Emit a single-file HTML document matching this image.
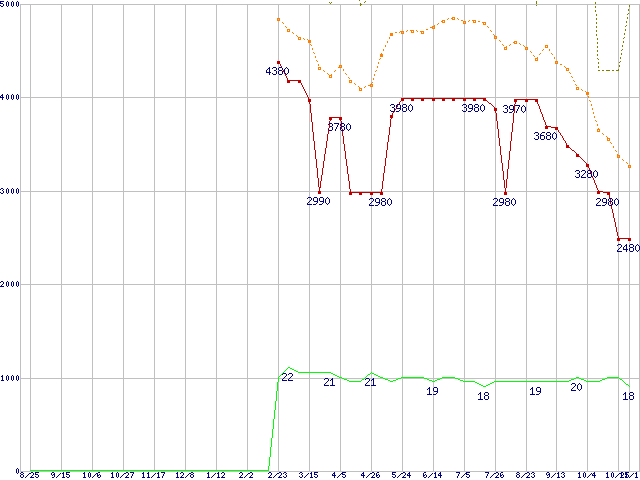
<!DOCTYPE html>
<html><head><meta charset="utf-8"><title>Chart</title>
<style>html,body{margin:0;padding:0;background:#fff;overflow:hidden}body{width:640px;height:480px;font-family:"Liberation Sans",sans-serif}svg{display:block}</style>
</head><body>
<svg role="img" aria-label="Line chart, 8/25 to 11/1, y axis 0 to 5000" width="640" height="480" viewBox="0 0 640 480" shape-rendering="crispEdges">
<rect width="640" height="480" fill="#fff"/>
<path fill="#c0c0c0" d="M20 4h1v468h-1zM30 4h1v468h-1zM61 4h1v468h-1zM92 4h1v468h-1zM123 4h1v468h-1zM154 4h1v468h-1zM185 4h1v468h-1zM216 4h1v468h-1zM247 4h1v468h-1zM278 4h1v468h-1zM309 4h1v468h-1zM340 4h1v468h-1zM371 4h1v468h-1zM402 4h1v468h-1zM433 4h1v468h-1zM464 4h1v468h-1zM495 4h1v468h-1zM526 4h1v468h-1zM556 4h1v468h-1zM587 4h1v468h-1zM618 4h1v468h-1zM629 4h1v468h-1zM639 4h1v468h-1zM20 4h620v1h-620zM20 97h620v1h-620zM20 191h620v1h-620zM20 284h620v1h-620zM20 378h620v1h-620zM20 471h620v1h-620z"/>
<path fill="#000080" d="M0 1h1v3h-1zM0 5h1v1h-1zM0 96h1v2h-1zM0 189h1v1h-1zM0 192h1v1h-1zM0 282h1v1h-1zM0 286h1v1h-1zM1 1h1v1h-1zM1 3h1v1h-1zM1 6h1v1h-1zM1 95h1v1h-1zM1 97h1v1h-1zM1 188h1v1h-1zM1 193h1v1h-1zM1 281h1v1h-1zM1 285h1v2h-1zM1 376h1v1h-1zM1 380h1v1h-1zM2 1h1v1h-1zM2 3h1v1h-1zM2 6h1v1h-1zM2 94h1v6h-1zM2 188h1v1h-1zM2 190h1v1h-1zM2 193h1v1h-1zM2 281h1v1h-1zM2 284h1v1h-1zM2 286h1v1h-1zM2 375h1v6h-1zM3 1h1v1h-1zM3 4h1v2h-1zM3 97h1v1h-1zM3 189h1v1h-1zM3 191h1v2h-1zM3 282h1v2h-1zM3 286h1v1h-1zM3 380h1v1h-1zM6 2h1v4h-1zM6 95h1v4h-1zM6 189h1v4h-1zM6 282h1v4h-1zM6 376h1v4h-1zM7 1h1v1h-1zM7 6h1v1h-1zM7 94h1v1h-1zM7 99h1v1h-1zM7 188h1v1h-1zM7 193h1v1h-1zM7 281h1v1h-1zM7 286h1v1h-1zM7 375h1v1h-1zM7 380h1v1h-1zM8 2h1v4h-1zM8 95h1v4h-1zM8 189h1v4h-1zM8 282h1v4h-1zM8 376h1v4h-1zM11 2h1v4h-1zM11 95h1v4h-1zM11 189h1v4h-1zM11 282h1v4h-1zM11 376h1v4h-1zM12 1h1v1h-1zM12 6h1v1h-1zM12 94h1v1h-1zM12 99h1v1h-1zM12 188h1v1h-1zM12 193h1v1h-1zM12 281h1v1h-1zM12 286h1v1h-1zM12 375h1v1h-1zM12 380h1v1h-1zM13 2h1v4h-1zM13 95h1v4h-1zM13 189h1v4h-1zM13 282h1v4h-1zM13 376h1v4h-1zM16 2h1v4h-1zM16 95h1v4h-1zM16 189h1v4h-1zM16 282h1v4h-1zM16 376h1v4h-1zM16 469h1v4h-1zM17 1h1v1h-1zM17 6h1v1h-1zM17 94h1v1h-1zM17 99h1v1h-1zM17 188h1v1h-1zM17 193h1v1h-1zM17 281h1v1h-1zM17 286h1v1h-1zM17 375h1v1h-1zM17 380h1v1h-1zM17 468h1v1h-1zM17 473h1v1h-1zM18 2h1v4h-1zM18 95h1v4h-1zM18 189h1v4h-1zM18 282h1v4h-1zM18 376h1v4h-1zM18 469h1v4h-1zM20 473h1v1h-1zM20 475h1v2h-1zM21 472h1v1h-1zM21 474h1v1h-1zM21 477h1v1h-1zM22 472h1v1h-1zM22 474h1v1h-1zM22 477h1v1h-1zM23 473h1v1h-1zM23 475h1v2h-1zM25 477h1v1h-1zM26 476h1v1h-1zM27 475h1v1h-1zM28 474h1v1h-1zM29 473h1v1h-1zM30 473h1v1h-1zM30 477h1v1h-1zM31 472h1v1h-1zM31 476h1v2h-1zM32 472h1v1h-1zM32 475h1v1h-1zM32 477h1v1h-1zM33 473h1v2h-1zM33 477h1v1h-1zM35 472h1v3h-1zM35 476h1v1h-1zM36 472h1v1h-1zM36 474h1v1h-1zM36 477h1v1h-1zM37 472h1v1h-1zM37 474h1v1h-1zM37 477h1v1h-1zM38 472h1v1h-1zM38 475h1v2h-1zM51 473h1v2h-1zM52 472h1v1h-1zM52 475h1v1h-1zM52 477h1v1h-1zM53 472h1v1h-1zM53 474h1v1h-1zM53 477h1v1h-1zM54 473h1v4h-1zM56 477h1v1h-1zM57 476h1v1h-1zM58 475h1v1h-1zM59 474h1v1h-1zM60 473h1v1h-1zM62 473h1v1h-1zM62 477h1v1h-1zM63 472h1v6h-1zM64 477h1v1h-1zM66 472h1v3h-1zM66 476h1v1h-1zM67 472h1v1h-1zM67 474h1v1h-1zM67 477h1v1h-1zM68 472h1v1h-1zM68 474h1v1h-1zM68 477h1v1h-1zM69 472h1v1h-1zM69 475h1v2h-1zM83 473h1v1h-1zM83 477h1v1h-1zM84 472h1v6h-1zM85 477h1v1h-1zM88 473h1v4h-1zM89 472h1v1h-1zM89 477h1v1h-1zM90 473h1v4h-1zM92 477h1v1h-1zM93 476h1v1h-1zM94 475h1v1h-1zM95 474h1v1h-1zM96 473h1v1h-1zM97 473h1v4h-1zM98 472h1v1h-1zM98 475h1v1h-1zM98 477h1v1h-1zM99 472h1v1h-1zM99 474h1v1h-1zM99 477h1v1h-1zM100 475h1v2h-1zM111 473h1v1h-1zM111 477h1v1h-1zM112 472h1v6h-1zM113 477h1v1h-1zM116 473h1v4h-1zM117 472h1v1h-1zM117 477h1v1h-1zM118 473h1v4h-1zM120 477h1v1h-1zM121 476h1v1h-1zM122 475h1v1h-1zM123 474h1v1h-1zM124 473h1v1h-1zM125 473h1v1h-1zM125 477h1v1h-1zM126 472h1v1h-1zM126 476h1v2h-1zM127 472h1v1h-1zM127 475h1v1h-1zM127 477h1v1h-1zM128 473h1v2h-1zM128 477h1v1h-1zM130 472h1v1h-1zM131 472h1v1h-1zM131 476h1v2h-1zM132 472h1v1h-1zM132 474h1v2h-1zM133 472h1v2h-1zM142 473h1v1h-1zM142 477h1v1h-1zM143 472h1v6h-1zM144 477h1v1h-1zM147 473h1v1h-1zM147 477h1v1h-1zM148 472h1v6h-1zM149 477h1v1h-1zM151 477h1v1h-1zM152 476h1v1h-1zM153 475h1v1h-1zM154 474h1v1h-1zM155 473h1v1h-1zM157 473h1v1h-1zM157 477h1v1h-1zM158 472h1v6h-1zM159 477h1v1h-1zM161 472h1v1h-1zM162 472h1v1h-1zM162 476h1v2h-1zM163 472h1v1h-1zM163 474h1v2h-1zM164 472h1v2h-1zM176 473h1v1h-1zM176 477h1v1h-1zM177 472h1v6h-1zM178 477h1v1h-1zM180 473h1v1h-1zM180 477h1v1h-1zM181 472h1v1h-1zM181 476h1v2h-1zM182 472h1v1h-1zM182 475h1v1h-1zM182 477h1v1h-1zM183 473h1v2h-1zM183 477h1v1h-1zM185 477h1v1h-1zM186 476h1v1h-1zM187 475h1v1h-1zM188 474h1v1h-1zM189 473h1v1h-1zM190 473h1v1h-1zM190 475h1v2h-1zM191 472h1v1h-1zM191 474h1v1h-1zM191 477h1v1h-1zM192 472h1v1h-1zM192 474h1v1h-1zM192 477h1v1h-1zM193 473h1v1h-1zM193 475h1v2h-1zM207 473h1v1h-1zM207 477h1v1h-1zM208 472h1v6h-1zM209 477h1v1h-1zM211 477h1v1h-1zM212 476h1v1h-1zM213 475h1v1h-1zM214 474h1v1h-1zM215 473h1v1h-1zM217 473h1v1h-1zM217 477h1v1h-1zM218 472h1v6h-1zM219 477h1v1h-1zM221 473h1v1h-1zM221 477h1v1h-1zM222 472h1v1h-1zM222 476h1v2h-1zM223 472h1v1h-1zM223 475h1v1h-1zM223 477h1v1h-1zM224 473h1v2h-1zM224 477h1v1h-1zM239 473h1v1h-1zM239 477h1v1h-1zM240 472h1v1h-1zM240 476h1v2h-1zM241 472h1v1h-1zM241 475h1v1h-1zM241 477h1v1h-1zM242 473h1v2h-1zM242 477h1v1h-1zM244 477h1v1h-1zM245 476h1v1h-1zM246 475h1v1h-1zM247 474h1v1h-1zM248 473h1v1h-1zM249 473h1v1h-1zM249 477h1v1h-1zM250 472h1v1h-1zM250 476h1v2h-1zM251 472h1v1h-1zM251 475h1v1h-1zM251 477h1v1h-1zM252 473h1v2h-1zM252 477h1v1h-1zM268 473h1v1h-1zM268 477h1v1h-1zM269 472h1v1h-1zM269 476h1v2h-1zM270 472h1v1h-1zM270 475h1v1h-1zM270 477h1v1h-1zM271 473h1v2h-1zM271 477h1v1h-1zM273 477h1v1h-1zM274 476h1v1h-1zM275 475h1v1h-1zM276 474h1v1h-1zM277 473h1v1h-1zM278 473h1v1h-1zM278 477h1v1h-1zM279 472h1v1h-1zM279 476h1v2h-1zM280 472h1v1h-1zM280 475h1v1h-1zM280 477h1v1h-1zM281 473h1v2h-1zM281 477h1v1h-1zM283 473h1v1h-1zM283 476h1v1h-1zM284 472h1v1h-1zM284 477h1v1h-1zM285 472h1v1h-1zM285 474h1v1h-1zM285 477h1v1h-1zM286 473h1v1h-1zM286 475h1v2h-1zM299 473h1v1h-1zM299 476h1v1h-1zM300 472h1v1h-1zM300 477h1v1h-1zM301 472h1v1h-1zM301 474h1v1h-1zM301 477h1v1h-1zM302 473h1v1h-1zM302 475h1v2h-1zM304 477h1v1h-1zM305 476h1v1h-1zM306 475h1v1h-1zM307 474h1v1h-1zM308 473h1v1h-1zM310 473h1v1h-1zM310 477h1v1h-1zM311 472h1v6h-1zM312 477h1v1h-1zM314 472h1v3h-1zM314 476h1v1h-1zM315 472h1v1h-1zM315 474h1v1h-1zM315 477h1v1h-1zM316 472h1v1h-1zM316 474h1v1h-1zM316 477h1v1h-1zM317 472h1v1h-1zM317 475h1v2h-1zM332 474h1v2h-1zM333 473h1v1h-1zM333 475h1v1h-1zM334 472h1v6h-1zM335 475h1v1h-1zM337 477h1v1h-1zM338 476h1v1h-1zM339 475h1v1h-1zM340 474h1v1h-1zM341 473h1v1h-1zM342 472h1v3h-1zM342 476h1v1h-1zM343 472h1v1h-1zM343 474h1v1h-1zM343 477h1v1h-1zM344 472h1v1h-1zM344 474h1v1h-1zM344 477h1v1h-1zM345 472h1v1h-1zM345 475h1v2h-1zM361 474h1v2h-1zM362 473h1v1h-1zM362 475h1v1h-1zM363 472h1v6h-1zM364 475h1v1h-1zM366 477h1v1h-1zM367 476h1v1h-1zM368 475h1v1h-1zM369 474h1v1h-1zM370 473h1v1h-1zM371 473h1v1h-1zM371 477h1v1h-1zM372 472h1v1h-1zM372 476h1v2h-1zM373 472h1v1h-1zM373 475h1v1h-1zM373 477h1v1h-1zM374 473h1v2h-1zM374 477h1v1h-1zM376 473h1v4h-1zM377 472h1v1h-1zM377 475h1v1h-1zM377 477h1v1h-1zM378 472h1v1h-1zM378 474h1v1h-1zM378 477h1v1h-1zM379 475h1v2h-1zM392 472h1v3h-1zM392 476h1v1h-1zM393 472h1v1h-1zM393 474h1v1h-1zM393 477h1v1h-1zM394 472h1v1h-1zM394 474h1v1h-1zM394 477h1v1h-1zM395 472h1v1h-1zM395 475h1v2h-1zM397 477h1v1h-1zM398 476h1v1h-1zM399 475h1v1h-1zM400 474h1v1h-1zM401 473h1v1h-1zM402 473h1v1h-1zM402 477h1v1h-1zM403 472h1v1h-1zM403 476h1v2h-1zM404 472h1v1h-1zM404 475h1v1h-1zM404 477h1v1h-1zM405 473h1v2h-1zM405 477h1v1h-1zM407 474h1v2h-1zM408 473h1v1h-1zM408 475h1v1h-1zM409 472h1v6h-1zM410 475h1v1h-1zM423 473h1v4h-1zM424 472h1v1h-1zM424 475h1v1h-1zM424 477h1v1h-1zM425 472h1v1h-1zM425 474h1v1h-1zM425 477h1v1h-1zM426 475h1v2h-1zM428 477h1v1h-1zM429 476h1v1h-1zM430 475h1v1h-1zM431 474h1v1h-1zM432 473h1v1h-1zM434 473h1v1h-1zM434 477h1v1h-1zM435 472h1v6h-1zM436 477h1v1h-1zM438 474h1v2h-1zM439 473h1v1h-1zM439 475h1v1h-1zM440 472h1v6h-1zM441 475h1v1h-1zM456 472h1v1h-1zM457 472h1v1h-1zM457 476h1v2h-1zM458 472h1v1h-1zM458 474h1v2h-1zM459 472h1v2h-1zM461 477h1v1h-1zM462 476h1v1h-1zM463 475h1v1h-1zM464 474h1v1h-1zM465 473h1v1h-1zM466 472h1v3h-1zM466 476h1v1h-1zM467 472h1v1h-1zM467 474h1v1h-1zM467 477h1v1h-1zM468 472h1v1h-1zM468 474h1v1h-1zM468 477h1v1h-1zM469 472h1v1h-1zM469 475h1v2h-1zM485 472h1v1h-1zM486 472h1v1h-1zM486 476h1v2h-1zM487 472h1v1h-1zM487 474h1v2h-1zM488 472h1v2h-1zM490 477h1v1h-1zM491 476h1v1h-1zM492 475h1v1h-1zM493 474h1v1h-1zM494 473h1v1h-1zM495 473h1v1h-1zM495 477h1v1h-1zM496 472h1v1h-1zM496 476h1v2h-1zM497 472h1v1h-1zM497 475h1v1h-1zM497 477h1v1h-1zM498 473h1v2h-1zM498 477h1v1h-1zM500 473h1v4h-1zM501 472h1v1h-1zM501 475h1v1h-1zM501 477h1v1h-1zM502 472h1v1h-1zM502 474h1v1h-1zM502 477h1v1h-1zM503 475h1v2h-1zM516 473h1v1h-1zM516 475h1v2h-1zM517 472h1v1h-1zM517 474h1v1h-1zM517 477h1v1h-1zM518 472h1v1h-1zM518 474h1v1h-1zM518 477h1v1h-1zM519 473h1v1h-1zM519 475h1v2h-1zM521 477h1v1h-1zM522 476h1v1h-1zM523 475h1v1h-1zM524 474h1v1h-1zM525 473h1v1h-1zM526 473h1v1h-1zM526 477h1v1h-1zM527 472h1v1h-1zM527 476h1v2h-1zM528 472h1v1h-1zM528 475h1v1h-1zM528 477h1v1h-1zM529 473h1v2h-1zM529 477h1v1h-1zM531 473h1v1h-1zM531 476h1v1h-1zM532 472h1v1h-1zM532 477h1v1h-1zM533 472h1v1h-1zM533 474h1v1h-1zM533 477h1v1h-1zM534 473h1v1h-1zM534 475h1v2h-1zM546 473h1v2h-1zM547 472h1v1h-1zM547 475h1v1h-1zM547 477h1v1h-1zM548 472h1v1h-1zM548 474h1v1h-1zM548 477h1v1h-1zM549 473h1v4h-1zM551 477h1v1h-1zM552 476h1v1h-1zM553 475h1v1h-1zM554 474h1v1h-1zM555 473h1v1h-1zM557 473h1v1h-1zM557 477h1v1h-1zM558 472h1v6h-1zM559 477h1v1h-1zM561 473h1v1h-1zM561 476h1v1h-1zM562 472h1v1h-1zM562 477h1v1h-1zM563 472h1v1h-1zM563 474h1v1h-1zM563 477h1v1h-1zM564 473h1v1h-1zM564 475h1v2h-1zM578 473h1v1h-1zM578 477h1v1h-1zM579 472h1v6h-1zM580 477h1v1h-1zM583 473h1v4h-1zM584 472h1v1h-1zM584 477h1v1h-1zM585 473h1v4h-1zM587 477h1v1h-1zM588 476h1v1h-1zM589 475h1v1h-1zM590 474h1v1h-1zM591 473h1v1h-1zM592 474h1v2h-1zM593 473h1v1h-1zM593 475h1v1h-1zM594 472h1v6h-1zM595 475h1v1h-1zM606 473h1v1h-1zM606 477h1v1h-1zM607 472h1v6h-1zM608 477h1v1h-1zM611 473h1v4h-1zM612 472h1v1h-1zM612 477h1v1h-1zM613 473h1v4h-1zM615 477h1v1h-1zM616 476h1v1h-1zM617 475h1v1h-1zM618 474h1v1h-1zM619 473h1v1h-1zM620 473h1v1h-1zM620 477h1v1h-1zM621 472h1v6h-1zM622 472h1v1h-1zM622 475h1v1h-1zM622 477h1v1h-1zM623 473h1v2h-1zM623 477h1v1h-1zM625 472h1v3h-1zM625 476h1v2h-1zM626 472h1v6h-1zM627 472h1v1h-1zM627 474h1v1h-1zM627 477h1v1h-1zM628 472h1v1h-1zM628 475h1v2h-1zM629 477h1v1h-1zM630 476h1v1h-1zM631 475h1v1h-1zM632 474h1v1h-1zM633 473h1v1h-1zM635 473h1v1h-1zM635 477h1v1h-1zM636 472h1v6h-1zM637 477h1v1h-1z"/>
<path fill="#ff8000" d="M277 18h1v3h-1zM278 18h1v1h-1zM278 20h1v1h-1zM279 18h1v3h-1zM282 22h1v1h-1zM283 23h1v1h-1zM285 26h1v1h-1zM286 27h1v1h-1zM287 29h1v3h-1zM288 29h1v1h-1zM288 31h1v1h-1zM289 29h1v3h-1zM292 32h1v1h-1zM293 33h1v1h-1zM296 35h1v1h-1zM297 36h1v1h-1zM298 37h1v3h-1zM299 37h1v1h-1zM299 39h1v1h-1zM300 37h1v3h-1zM303 38h1v1h-1zM304 39h1v1h-1zM307 39h1v1h-1zM308 40h1v3h-1zM309 40h1v3h-1zM310 40h1v3h-1zM310 44h1v1h-1zM311 45h1v1h-1zM312 48h1v2h-1zM313 52h1v1h-1zM314 53h1v1h-1zM315 56h1v2h-1zM316 60h1v1h-1zM317 61h1v1h-1zM318 64h1v2h-1zM318 67h1v3h-1zM319 67h1v1h-1zM319 69h1v1h-1zM320 67h1v3h-1zM323 70h1v1h-1zM324 71h1v1h-1zM327 73h1v1h-1zM328 74h1v1h-1zM329 75h1v3h-1zM330 75h1v1h-1zM330 77h1v1h-1zM331 74h1v4h-1zM334 71h1v1h-1zM335 70h1v1h-1zM338 67h1v1h-1zM339 65h1v3h-1zM340 65h1v1h-1zM340 67h1v1h-1zM341 65h1v3h-1zM343 69h1v2h-1zM345 73h1v1h-1zM346 74h1v1h-1zM348 77h1v1h-1zM349 78h1v1h-1zM349 80h1v3h-1zM350 80h1v1h-1zM350 82h1v1h-1zM351 80h1v3h-1zM354 83h1v1h-1zM355 84h1v1h-1zM358 86h1v1h-1zM359 87h1v4h-1zM360 88h1v1h-1zM360 90h1v1h-1zM361 88h1v3h-1zM364 87h1v1h-1zM365 86h1v1h-1zM368 85h1v1h-1zM369 85h1v1h-1zM370 84h1v3h-1zM371 83h1v2h-1zM371 86h1v1h-1zM372 82h1v1h-1zM372 84h1v3h-1zM373 78h1v2h-1zM374 74h1v2h-1zM375 71h1v1h-1zM376 70h1v1h-1zM377 66h1v2h-1zM378 62h1v2h-1zM379 59h1v1h-1zM380 54h1v3h-1zM380 58h1v1h-1zM381 53h1v4h-1zM382 54h1v3h-1zM383 49h1v2h-1zM385 45h1v2h-1zM387 41h1v2h-1zM389 37h1v2h-1zM390 33h1v3h-1zM391 33h1v3h-1zM392 33h1v3h-1zM395 32h1v1h-1zM396 32h1v1h-1zM399 32h1v1h-1zM400 31h1v1h-1zM401 31h1v3h-1zM402 31h1v1h-1zM402 33h1v1h-1zM403 31h1v3h-1zM406 31h1v1h-1zM407 30h1v1h-1zM410 30h1v1h-1zM411 30h1v3h-1zM412 30h1v1h-1zM412 32h1v1h-1zM413 30h1v3h-1zM416 30h1v1h-1zM417 31h1v1h-1zM420 31h1v1h-1zM421 31h1v3h-1zM422 31h1v1h-1zM422 33h1v1h-1zM423 31h1v3h-1zM426 29h1v1h-1zM427 29h1v1h-1zM430 27h1v1h-1zM431 27h1v1h-1zM432 26h1v3h-1zM433 26h1v1h-1zM433 28h1v1h-1zM434 25h1v4h-1zM437 24h1v1h-1zM438 23h1v1h-1zM441 21h1v1h-1zM442 20h1v3h-1zM443 20h1v1h-1zM443 22h1v1h-1zM444 20h1v3h-1zM447 19h1v1h-1zM448 18h1v1h-1zM451 18h1v1h-1zM452 17h1v3h-1zM453 17h1v1h-1zM453 19h1v1h-1zM454 17h1v3h-1zM457 18h1v1h-1zM458 19h1v1h-1zM461 20h1v1h-1zM462 20h1v1h-1zM463 21h1v3h-1zM464 21h1v1h-1zM464 23h1v1h-1zM465 21h1v3h-1zM468 21h1v1h-1zM469 20h1v1h-1zM472 20h1v1h-1zM473 20h1v3h-1zM474 20h1v1h-1zM474 22h1v1h-1zM475 20h1v3h-1zM478 21h1v1h-1zM479 21h1v1h-1zM482 22h1v1h-1zM483 22h1v3h-1zM484 22h1v1h-1zM484 24h1v1h-1zM485 22h1v3h-1zM487 26h1v1h-1zM488 27h1v1h-1zM490 30h1v1h-1zM491 31h1v1h-1zM493 34h1v1h-1zM494 35h1v4h-1zM495 36h1v1h-1zM495 38h1v1h-1zM496 36h1v3h-1zM499 40h1v1h-1zM500 41h1v1h-1zM502 44h1v1h-1zM503 45h1v1h-1zM504 47h1v3h-1zM505 47h1v1h-1zM505 49h1v1h-1zM506 46h1v4h-1zM509 45h1v1h-1zM510 44h1v1h-1zM513 42h1v1h-1zM514 41h1v3h-1zM515 41h1v1h-1zM515 43h1v1h-1zM516 41h1v3h-1zM519 43h1v1h-1zM520 44h1v1h-1zM523 45h1v1h-1zM524 46h1v1h-1zM525 47h1v3h-1zM526 47h1v1h-1zM526 49h1v1h-1zM527 47h1v3h-1zM530 51h1v1h-1zM531 52h1v1h-1zM533 55h1v1h-1zM534 56h1v1h-1zM535 58h1v3h-1zM536 58h1v1h-1zM536 60h1v1h-1zM537 57h1v4h-1zM539 54h1v1h-1zM540 53h1v1h-1zM542 50h1v1h-1zM543 49h1v1h-1zM545 45h1v3h-1zM546 45h1v1h-1zM546 47h1v1h-1zM547 45h1v3h-1zM549 49h1v2h-1zM551 53h1v1h-1zM552 54h1v1h-1zM554 57h1v2h-1zM555 61h1v3h-1zM556 61h1v1h-1zM556 63h1v1h-1zM557 61h1v3h-1zM560 64h1v1h-1zM561 64h1v1h-1zM564 66h1v1h-1zM565 67h1v1h-1zM566 68h1v3h-1zM567 68h1v1h-1zM567 70h1v1h-1zM568 68h1v3h-1zM569 72h1v1h-1zM570 73h1v1h-1zM571 76h1v1h-1zM572 77h1v1h-1zM573 80h1v1h-1zM574 81h1v1h-1zM575 84h1v1h-1zM576 85h1v1h-1zM576 87h1v3h-1zM577 87h1v1h-1zM577 89h1v1h-1zM578 87h1v3h-1zM581 89h1v1h-1zM582 90h1v1h-1zM585 91h1v1h-1zM586 92h1v3h-1zM587 92h1v3h-1zM588 92h1v3h-1zM588 96h1v2h-1zM589 100h1v1h-1zM590 101h1v1h-1zM591 104h1v2h-1zM592 108h1v2h-1zM593 112h1v2h-1zM594 116h1v2h-1zM595 120h1v1h-1zM596 121h1v1h-1zM597 124h1v2h-1zM597 129h1v3h-1zM598 128h1v2h-1zM598 131h1v1h-1zM599 129h1v3h-1zM602 133h1v1h-1zM603 134h1v1h-1zM606 136h1v1h-1zM607 137h1v4h-1zM608 138h1v1h-1zM608 140h1v1h-1zM609 138h1v3h-1zM610 142h1v1h-1zM611 143h1v1h-1zM613 146h1v2h-1zM615 150h1v1h-1zM616 151h1v1h-1zM617 154h1v4h-1zM618 155h1v1h-1zM618 157h1v1h-1zM619 155h1v3h-1zM622 159h1v1h-1zM623 160h1v1h-1zM626 162h1v1h-1zM627 163h1v1h-1zM628 165h1v3h-1zM629 165h1v1h-1zM629 167h1v1h-1zM630 165h1v3h-1z"/>
<path fill="#808000" d="M329 2h1v1h-1zM330 3h1v1h-1zM331 2h1v1h-1zM359 0h1v1h-1zM360 3h1v3h-1zM361 4h1v1h-1zM364 2h1v1h-1zM365 1h1v1h-1zM536 1h1v3h-1zM536 5h1v1h-1zM595 2h1v2h-1zM595 6h1v2h-1zM595 10h1v2h-1zM596 14h1v2h-1zM596 18h1v2h-1zM596 22h1v2h-1zM596 26h1v2h-1zM596 30h1v2h-1zM596 34h1v2h-1zM597 38h1v2h-1zM597 42h1v2h-1zM597 46h1v2h-1zM597 50h1v2h-1zM597 54h1v2h-1zM597 58h1v1h-1zM598 59h1v1h-1zM598 62h1v2h-1zM598 66h1v2h-1zM598 70h1v1h-1zM599 70h1v1h-1zM602 70h1v1h-1zM603 70h1v1h-1zM606 70h1v1h-1zM607 70h1v1h-1zM608 70h1v1h-1zM609 70h1v1h-1zM612 70h1v1h-1zM613 70h1v1h-1zM616 70h1v1h-1zM617 70h1v1h-1zM618 69h1v2h-1zM619 62h1v1h-1zM619 65h1v2h-1zM620 57h1v2h-1zM620 61h1v1h-1zM621 50h1v1h-1zM621 53h1v2h-1zM622 45h1v2h-1zM622 49h1v1h-1zM623 38h1v1h-1zM623 41h1v2h-1zM624 33h1v2h-1zM624 37h1v1h-1zM625 26h1v1h-1zM625 29h1v2h-1zM626 21h1v2h-1zM626 25h1v1h-1zM627 14h1v1h-1zM627 17h1v2h-1zM628 9h1v2h-1zM628 13h1v1h-1zM629 5h1v2h-1z"/>
<path fill="#00ff00" d="M288 367h2v1h-2zM287 368h1v1h-1zM290 368h2v1h-2zM286 369h1v1h-1zM292 369h2v1h-2zM285 370h1v1h-1zM294 370h2v1h-2zM284 371h1v1h-1zM296 371h2v1h-2zM283 372h1v1h-1zM298 372h33v1h-33zM371 372h1v1h-1zM282 373h1v1h-1zM331 373h2v1h-2zM370 373h1v1h-1zM372 373h2v1h-2zM281 374h1v1h-1zM333 374h2v1h-2zM368 374h2v1h-2zM374 374h2v1h-2zM280 375h1v1h-1zM335 375h2v1h-2zM367 375h1v1h-1zM376 375h2v1h-2zM279 376h1v1h-1zM337 376h2v1h-2zM366 376h1v1h-1zM378 376h2v1h-2zM278 377h1v1h-1zM339 377h3v1h-3zM365 377h1v1h-1zM380 377h3v1h-3zM401 377h23v1h-23zM442 377h13v1h-13zM576 377h3v1h-3zM607 377h12v1h-12zM278 378h1v1h-1zM342 378h2v1h-2zM364 378h1v1h-1zM383 378h2v1h-2zM398 378h3v1h-3zM424 378h3v1h-3zM440 378h2v1h-2zM455 378h3v1h-3zM574 378h2v1h-2zM579 378h2v1h-2zM605 378h2v1h-2zM619 378h1v1h-1zM278 379h1v1h-1zM344 379h3v1h-3zM362 379h2v1h-2zM385 379h3v1h-3zM396 379h2v1h-2zM427 379h2v1h-2zM437 379h3v1h-3zM458 379h2v1h-2zM571 379h3v1h-3zM581 379h3v1h-3zM602 379h3v1h-3zM620 379h2v1h-2zM278 380h1v1h-1zM347 380h2v1h-2zM361 380h1v1h-1zM388 380h2v1h-2zM393 380h3v1h-3zM429 380h3v1h-3zM435 380h2v1h-2zM460 380h3v1h-3zM569 380h2v1h-2zM584 380h2v1h-2zM600 380h2v1h-2zM622 380h1v1h-1zM278 381h1v1h-1zM349 381h12v1h-12zM390 381h3v1h-3zM432 381h3v1h-3zM463 381h12v1h-12zM494 381h75v1h-75zM586 381h14v1h-14zM623 381h1v1h-1zM277 382h1v1h-1zM475 382h2v1h-2zM492 382h2v1h-2zM624 382h1v1h-1zM277 383h1v1h-1zM477 383h2v1h-2zM490 383h2v1h-2zM625 383h1v1h-1zM277 384h1v1h-1zM479 384h2v1h-2zM488 384h2v1h-2zM626 384h2v1h-2zM277 385h1v1h-1zM481 385h2v1h-2zM486 385h2v1h-2zM628 385h1v1h-1zM277 386h1v1h-1zM483 386h3v1h-3zM629 386h1v1h-1zM277 387h1v1h-1zM277 388h1v1h-1zM277 389h1v1h-1zM277 390h1v1h-1zM276 391h1v1h-1zM276 392h1v1h-1zM276 393h1v1h-1zM276 394h1v1h-1zM276 395h1v1h-1zM276 396h1v1h-1zM276 397h1v1h-1zM276 398h1v1h-1zM276 399h1v1h-1zM276 400h1v1h-1zM275 401h1v1h-1zM275 402h1v1h-1zM275 403h1v1h-1zM275 404h1v1h-1zM275 405h1v1h-1zM275 406h1v1h-1zM275 407h1v1h-1zM275 408h1v1h-1zM275 409h1v1h-1zM274 410h1v1h-1zM274 411h1v1h-1zM274 412h1v1h-1zM274 413h1v1h-1zM274 414h1v1h-1zM274 415h1v1h-1zM274 416h1v1h-1zM274 417h1v1h-1zM274 418h1v1h-1zM273 419h1v1h-1zM273 420h1v1h-1zM273 421h1v1h-1zM273 422h1v1h-1zM273 423h1v1h-1zM273 424h1v1h-1zM273 425h1v1h-1zM273 426h1v1h-1zM273 427h1v1h-1zM273 428h1v1h-1zM272 429h1v1h-1zM272 430h1v1h-1zM272 431h1v1h-1zM272 432h1v1h-1zM272 433h1v1h-1zM272 434h1v1h-1zM272 435h1v1h-1zM272 436h1v1h-1zM272 437h1v1h-1zM271 438h1v1h-1zM271 439h1v1h-1zM271 440h1v1h-1zM271 441h1v1h-1zM271 442h1v1h-1zM271 443h1v1h-1zM271 444h1v1h-1zM271 445h1v1h-1zM271 446h1v1h-1zM270 447h1v1h-1zM270 448h1v1h-1zM270 449h1v1h-1zM270 450h1v1h-1zM270 451h1v1h-1zM270 452h1v1h-1zM270 453h1v1h-1zM270 454h1v1h-1zM270 455h1v1h-1zM270 456h1v1h-1zM269 457h1v1h-1zM269 458h1v1h-1zM269 459h1v1h-1zM269 460h1v1h-1zM269 461h1v1h-1zM269 462h1v1h-1zM269 463h1v1h-1zM269 464h1v1h-1zM269 465h1v1h-1zM268 466h1v1h-1zM268 467h1v1h-1zM268 468h1v1h-1zM268 469h1v1h-1zM30 470h239v1h-239z"/>
<path fill="#c00000" d="M277 61h1v3h-1zM278 61h1v3h-1zM279 61h1v3h-1zM280 64h1v2h-1zM281 66h1v2h-1zM282 68h1v2h-1zM283 70h1v2h-1zM284 72h1v2h-1zM285 74h1v2h-1zM286 76h1v2h-1zM287 78h1v5h-1zM288 80h1v3h-1zM289 80h1v3h-1zM290 80h1v1h-1zM291 80h1v1h-1zM292 80h1v1h-1zM293 80h1v1h-1zM294 80h1v1h-1zM295 80h1v1h-1zM296 80h1v1h-1zM297 80h1v1h-1zM298 80h1v3h-1zM299 80h1v3h-1zM300 80h1v3h-1zM301 83h1v2h-1zM302 85h1v2h-1zM303 87h1v2h-1zM304 89h1v2h-1zM305 91h1v2h-1zM306 93h1v2h-1zM307 95h1v2h-1zM308 97h1v5h-1zM309 99h1v5h-1zM310 99h1v3h-1zM310 104h1v9h-1zM311 113h1v9h-1zM312 122h1v10h-1zM313 132h1v9h-1zM314 141h1v9h-1zM315 150h1v9h-1zM316 159h1v9h-1zM317 168h1v10h-1zM318 178h1v9h-1zM318 191h1v3h-1zM319 187h1v7h-1zM320 181h1v7h-1zM320 191h1v3h-1zM321 175h1v6h-1zM322 168h1v7h-1zM323 161h1v7h-1zM324 154h1v7h-1zM325 148h1v6h-1zM326 141h1v7h-1zM327 134h1v7h-1zM328 128h1v6h-1zM329 117h1v3h-1zM329 121h1v7h-1zM330 117h1v4h-1zM331 117h1v3h-1zM332 117h1v1h-1zM333 117h1v1h-1zM334 117h1v1h-1zM335 117h1v1h-1zM336 117h1v1h-1zM337 117h1v1h-1zM338 117h1v1h-1zM339 117h1v3h-1zM340 117h1v4h-1zM341 117h1v3h-1zM341 121h1v8h-1zM342 129h1v7h-1zM343 136h1v8h-1zM344 144h1v7h-1zM345 151h1v8h-1zM346 159h1v7h-1zM347 166h1v8h-1zM348 174h1v7h-1zM349 181h1v8h-1zM349 192h1v3h-1zM350 189h1v6h-1zM351 192h1v3h-1zM352 192h1v1h-1zM353 192h1v1h-1zM354 192h1v1h-1zM355 192h1v1h-1zM356 192h1v1h-1zM357 192h1v1h-1zM358 192h1v1h-1zM359 192h1v3h-1zM360 192h1v3h-1zM361 192h1v3h-1zM362 192h1v1h-1zM363 192h1v1h-1zM364 192h1v1h-1zM365 192h1v1h-1zM366 192h1v1h-1zM367 192h1v1h-1zM368 192h1v1h-1zM369 192h1v1h-1zM370 192h1v3h-1zM371 192h1v3h-1zM372 192h1v3h-1zM373 192h1v1h-1zM374 192h1v1h-1zM375 192h1v1h-1zM376 192h1v1h-1zM377 192h1v1h-1zM378 192h1v1h-1zM379 192h1v1h-1zM380 192h1v3h-1zM381 189h1v6h-1zM382 181h1v8h-1zM382 192h1v3h-1zM383 173h1v8h-1zM384 166h1v7h-1zM385 158h1v8h-1zM386 150h1v8h-1zM387 142h1v8h-1zM388 135h1v7h-1zM389 127h1v8h-1zM390 115h1v3h-1zM390 119h1v8h-1zM391 115h1v4h-1zM392 113h1v5h-1zM393 112h1v1h-1zM394 110h1v2h-1zM395 109h1v1h-1zM396 107h1v2h-1zM397 105h1v2h-1zM398 104h1v1h-1zM399 102h1v2h-1zM400 101h1v1h-1zM401 98h1v3h-1zM402 98h1v3h-1zM403 98h1v3h-1zM404 98h1v1h-1zM405 98h1v1h-1zM406 98h1v1h-1zM407 98h1v1h-1zM408 98h1v1h-1zM409 98h1v1h-1zM410 98h1v1h-1zM411 98h1v3h-1zM412 98h1v3h-1zM413 98h1v3h-1zM414 98h1v1h-1zM415 98h1v1h-1zM416 98h1v1h-1zM417 98h1v1h-1zM418 98h1v1h-1zM419 98h1v1h-1zM420 98h1v1h-1zM421 98h1v3h-1zM422 98h1v3h-1zM423 98h1v3h-1zM424 98h1v1h-1zM425 98h1v1h-1zM426 98h1v1h-1zM427 98h1v1h-1zM428 98h1v1h-1zM429 98h1v1h-1zM430 98h1v1h-1zM431 98h1v1h-1zM432 98h1v3h-1zM433 98h1v3h-1zM434 98h1v3h-1zM435 98h1v1h-1zM436 98h1v1h-1zM437 98h1v1h-1zM438 98h1v1h-1zM439 98h1v1h-1zM440 98h1v1h-1zM441 98h1v1h-1zM442 98h1v3h-1zM443 98h1v3h-1zM444 98h1v3h-1zM445 98h1v1h-1zM446 98h1v1h-1zM447 98h1v1h-1zM448 98h1v1h-1zM449 98h1v1h-1zM450 98h1v1h-1zM451 98h1v1h-1zM452 98h1v3h-1zM453 98h1v3h-1zM454 98h1v3h-1zM455 98h1v1h-1zM456 98h1v1h-1zM457 98h1v1h-1zM458 98h1v1h-1zM459 98h1v1h-1zM460 98h1v1h-1zM461 98h1v1h-1zM462 98h1v1h-1zM463 98h1v3h-1zM464 98h1v3h-1zM465 98h1v3h-1zM466 98h1v1h-1zM467 98h1v1h-1zM468 98h1v1h-1zM469 98h1v1h-1zM470 98h1v1h-1zM471 98h1v1h-1zM472 98h1v1h-1zM473 98h1v3h-1zM474 98h1v3h-1zM475 98h1v3h-1zM476 98h1v1h-1zM477 98h1v1h-1zM478 98h1v1h-1zM479 98h1v1h-1zM480 98h1v1h-1zM481 98h1v1h-1zM482 98h1v1h-1zM483 98h1v3h-1zM484 98h1v3h-1zM485 98h1v3h-1zM486 100h1v1h-1zM487 101h1v1h-1zM488 102h1v1h-1zM489 103h1v1h-1zM490 103h1v1h-1zM491 104h1v1h-1zM492 105h1v1h-1zM493 106h1v1h-1zM494 107h1v4h-1zM495 108h1v5h-1zM496 108h1v3h-1zM496 113h1v8h-1zM497 121h1v8h-1zM498 129h1v9h-1zM499 138h1v8h-1zM500 146h1v9h-1zM501 155h1v8h-1zM502 163h1v8h-1zM503 171h1v9h-1zM504 180h1v8h-1zM504 192h1v3h-1zM505 188h1v7h-1zM506 179h1v9h-1zM506 192h1v3h-1zM507 169h1v10h-1zM508 160h1v9h-1zM509 151h1v9h-1zM510 141h1v10h-1zM511 132h1v9h-1zM512 123h1v9h-1zM513 113h1v10h-1zM514 99h1v3h-1zM514 104h1v9h-1zM515 99h1v5h-1zM516 99h1v3h-1zM517 99h1v1h-1zM518 99h1v1h-1zM519 99h1v1h-1zM520 99h1v1h-1zM521 99h1v1h-1zM522 99h1v1h-1zM523 99h1v1h-1zM524 99h1v1h-1zM525 99h1v3h-1zM526 99h1v3h-1zM527 99h1v3h-1zM528 99h1v1h-1zM529 99h1v1h-1zM530 99h1v1h-1zM531 99h1v1h-1zM532 99h1v1h-1zM533 99h1v1h-1zM534 99h1v1h-1zM535 99h1v3h-1zM536 99h1v3h-1zM537 99h1v5h-1zM538 104h1v2h-1zM539 106h1v3h-1zM540 109h1v3h-1zM541 112h1v2h-1zM542 114h1v3h-1zM543 117h1v3h-1zM544 120h1v2h-1zM545 122h1v3h-1zM545 126h1v3h-1zM546 125h1v4h-1zM547 126h1v3h-1zM548 126h1v1h-1zM549 126h1v1h-1zM550 126h1v1h-1zM551 127h1v1h-1zM552 127h1v1h-1zM553 127h1v1h-1zM554 127h1v1h-1zM555 127h1v3h-1zM556 127h1v3h-1zM557 127h1v3h-1zM558 130h1v2h-1zM559 132h1v1h-1zM560 133h1v2h-1zM561 135h1v1h-1zM562 136h1v2h-1zM563 138h1v2h-1zM564 140h1v1h-1zM565 141h1v2h-1zM566 143h1v5h-1zM567 145h1v3h-1zM568 145h1v3h-1zM569 147h1v1h-1zM570 148h1v1h-1zM571 149h1v1h-1zM572 150h1v1h-1zM573 150h1v1h-1zM574 151h1v1h-1zM575 152h1v1h-1zM576 153h1v4h-1zM577 154h1v3h-1zM578 154h1v3h-1zM579 156h1v1h-1zM580 157h1v1h-1zM581 158h1v1h-1zM582 159h1v1h-1zM583 160h1v1h-1zM584 161h1v1h-1zM585 162h1v1h-1zM586 163h1v4h-1zM587 164h1v3h-1zM588 164h1v4h-1zM589 168h1v3h-1zM590 171h1v2h-1zM591 173h1v3h-1zM592 176h1v2h-1zM593 178h1v2h-1zM594 180h1v3h-1zM595 183h1v2h-1zM596 185h1v3h-1zM597 188h1v2h-1zM597 191h1v3h-1zM598 190h1v4h-1zM599 191h1v3h-1zM600 191h1v1h-1zM601 191h1v1h-1zM602 191h1v1h-1zM603 192h1v1h-1zM604 192h1v1h-1zM605 192h1v1h-1zM606 192h1v1h-1zM607 192h1v3h-1zM608 192h1v3h-1zM609 192h1v7h-1zM610 199h1v5h-1zM611 204h1v5h-1zM612 209h1v4h-1zM613 213h1v5h-1zM614 218h1v4h-1zM615 222h1v5h-1zM616 227h1v5h-1zM617 232h1v4h-1zM617 238h1v3h-1zM618 236h1v5h-1zM619 238h1v3h-1zM620 238h1v1h-1zM621 238h1v1h-1zM622 238h1v1h-1zM623 238h1v1h-1zM624 238h1v1h-1zM625 238h1v1h-1zM626 238h1v1h-1zM627 238h1v1h-1zM628 238h1v3h-1zM629 238h1v3h-1zM630 238h1v3h-1z"/>
<path fill="#000080" d="M266 70h1v3h-1zM267 69h1v1h-1zM267 72h1v1h-1zM268 68h1v1h-1zM268 72h1v1h-1zM269 67h1v8h-1zM270 72h1v1h-1zM272 68h1v1h-1zM272 73h1v1h-1zM273 67h1v1h-1zM273 74h1v1h-1zM274 67h1v1h-1zM274 70h1v1h-1zM274 74h1v1h-1zM275 67h1v1h-1zM275 70h1v1h-1zM275 74h1v1h-1zM276 68h1v2h-1zM276 71h1v3h-1zM278 68h1v2h-1zM278 71h1v3h-1zM279 67h1v1h-1zM279 70h1v1h-1zM279 74h1v1h-1zM280 67h1v1h-1zM280 70h1v1h-1zM280 74h1v1h-1zM281 67h1v1h-1zM281 70h1v1h-1zM281 74h1v1h-1zM282 68h1v2h-1zM282 71h1v3h-1zM282 374h1v1h-1zM282 379h1v2h-1zM283 373h1v1h-1zM283 378h1v1h-1zM283 380h1v1h-1zM284 69h1v4h-1zM284 373h1v1h-1zM284 377h1v1h-1zM284 380h1v1h-1zM285 68h1v1h-1zM285 73h1v1h-1zM285 373h1v1h-1zM285 376h1v1h-1zM285 380h1v1h-1zM286 67h1v1h-1zM286 74h1v1h-1zM286 374h1v2h-1zM286 380h1v1h-1zM287 68h1v1h-1zM287 73h1v1h-1zM288 69h1v4h-1zM288 374h1v1h-1zM288 379h1v2h-1zM289 373h1v1h-1zM289 378h1v1h-1zM289 380h1v1h-1zM290 373h1v1h-1zM290 377h1v1h-1zM290 380h1v1h-1zM291 373h1v1h-1zM291 376h1v1h-1zM291 380h1v1h-1zM292 374h1v2h-1zM292 380h1v1h-1zM307 198h1v1h-1zM307 203h1v2h-1zM308 197h1v1h-1zM308 202h1v1h-1zM308 204h1v1h-1zM309 197h1v1h-1zM309 201h1v1h-1zM309 204h1v1h-1zM310 197h1v1h-1zM310 200h1v1h-1zM310 204h1v1h-1zM311 198h1v2h-1zM311 204h1v1h-1zM313 198h1v3h-1zM313 204h1v1h-1zM314 197h1v1h-1zM314 201h1v1h-1zM314 204h1v1h-1zM315 197h1v1h-1zM315 201h1v1h-1zM315 204h1v1h-1zM316 197h1v1h-1zM316 201h1v1h-1zM316 203h1v1h-1zM317 198h1v5h-1zM319 198h1v3h-1zM319 204h1v1h-1zM320 197h1v1h-1zM320 201h1v1h-1zM320 204h1v1h-1zM321 197h1v1h-1zM321 201h1v1h-1zM321 204h1v1h-1zM322 197h1v1h-1zM322 201h1v1h-1zM322 203h1v1h-1zM323 198h1v5h-1zM324 379h1v1h-1zM324 384h1v2h-1zM325 199h1v4h-1zM325 378h1v1h-1zM325 383h1v1h-1zM325 385h1v1h-1zM326 198h1v1h-1zM326 203h1v1h-1zM326 378h1v1h-1zM326 382h1v1h-1zM326 385h1v1h-1zM327 197h1v1h-1zM327 204h1v1h-1zM327 378h1v1h-1zM327 381h1v1h-1zM327 385h1v1h-1zM328 124h1v1h-1zM328 129h1v1h-1zM328 198h1v1h-1zM328 203h1v1h-1zM328 379h1v2h-1zM328 385h1v1h-1zM329 123h1v1h-1zM329 130h1v1h-1zM329 199h1v4h-1zM330 123h1v1h-1zM330 126h1v1h-1zM330 130h1v1h-1zM330 380h1v1h-1zM330 385h1v1h-1zM331 123h1v1h-1zM331 126h1v1h-1zM331 130h1v1h-1zM331 379h1v1h-1zM331 385h1v1h-1zM332 124h1v2h-1zM332 127h1v3h-1zM332 378h1v8h-1zM333 385h1v1h-1zM334 123h1v1h-1zM334 385h1v1h-1zM335 123h1v1h-1zM335 129h1v2h-1zM336 123h1v1h-1zM336 127h1v2h-1zM337 123h1v1h-1zM337 125h1v2h-1zM338 123h1v2h-1zM340 124h1v2h-1zM340 127h1v3h-1zM341 123h1v1h-1zM341 126h1v1h-1zM341 130h1v1h-1zM342 123h1v1h-1zM342 126h1v1h-1zM342 130h1v1h-1zM343 123h1v1h-1zM343 126h1v1h-1zM343 130h1v1h-1zM344 124h1v2h-1zM344 127h1v3h-1zM346 125h1v4h-1zM347 124h1v1h-1zM347 129h1v1h-1zM348 123h1v1h-1zM348 130h1v1h-1zM349 124h1v1h-1zM349 129h1v1h-1zM350 125h1v4h-1zM365 379h1v1h-1zM365 384h1v2h-1zM366 378h1v1h-1zM366 383h1v1h-1zM366 385h1v1h-1zM367 378h1v1h-1zM367 382h1v1h-1zM367 385h1v1h-1zM368 378h1v1h-1zM368 381h1v1h-1zM368 385h1v1h-1zM369 199h1v1h-1zM369 204h1v2h-1zM369 379h1v2h-1zM369 385h1v1h-1zM370 198h1v1h-1zM370 203h1v1h-1zM370 205h1v1h-1zM371 198h1v1h-1zM371 202h1v1h-1zM371 205h1v1h-1zM371 380h1v1h-1zM371 385h1v1h-1zM372 198h1v1h-1zM372 201h1v1h-1zM372 205h1v1h-1zM372 379h1v1h-1zM372 385h1v1h-1zM373 199h1v2h-1zM373 205h1v1h-1zM373 378h1v8h-1zM374 385h1v1h-1zM375 199h1v3h-1zM375 205h1v1h-1zM375 385h1v1h-1zM376 198h1v1h-1zM376 202h1v1h-1zM376 205h1v1h-1zM377 198h1v1h-1zM377 202h1v1h-1zM377 205h1v1h-1zM378 198h1v1h-1zM378 202h1v1h-1zM378 204h1v1h-1zM379 199h1v5h-1zM381 199h1v2h-1zM381 202h1v3h-1zM382 198h1v1h-1zM382 201h1v1h-1zM382 205h1v1h-1zM383 198h1v1h-1zM383 201h1v1h-1zM383 205h1v1h-1zM384 198h1v1h-1zM384 201h1v1h-1zM384 205h1v1h-1zM385 199h1v2h-1zM385 202h1v3h-1zM387 200h1v4h-1zM388 199h1v1h-1zM388 204h1v1h-1zM389 198h1v1h-1zM389 205h1v1h-1zM390 105h1v1h-1zM390 110h1v1h-1zM390 199h1v1h-1zM390 204h1v1h-1zM391 104h1v1h-1zM391 111h1v1h-1zM391 200h1v4h-1zM392 104h1v1h-1zM392 107h1v1h-1zM392 111h1v1h-1zM393 104h1v1h-1zM393 107h1v1h-1zM393 111h1v1h-1zM394 105h1v2h-1zM394 108h1v3h-1zM396 105h1v3h-1zM396 111h1v1h-1zM397 104h1v1h-1zM397 108h1v1h-1zM397 111h1v1h-1zM398 104h1v1h-1zM398 108h1v1h-1zM398 111h1v1h-1zM399 104h1v1h-1zM399 108h1v1h-1zM399 110h1v1h-1zM400 105h1v5h-1zM402 105h1v2h-1zM402 108h1v3h-1zM403 104h1v1h-1zM403 107h1v1h-1zM403 111h1v1h-1zM404 104h1v1h-1zM404 107h1v1h-1zM404 111h1v1h-1zM405 104h1v1h-1zM405 107h1v1h-1zM405 111h1v1h-1zM406 105h1v2h-1zM406 108h1v3h-1zM408 106h1v4h-1zM409 105h1v1h-1zM409 110h1v1h-1zM410 104h1v1h-1zM410 111h1v1h-1zM411 105h1v1h-1zM411 110h1v1h-1zM412 106h1v4h-1zM427 389h1v1h-1zM427 394h1v1h-1zM428 388h1v1h-1zM428 394h1v1h-1zM429 387h1v8h-1zM430 394h1v1h-1zM431 394h1v1h-1zM433 388h1v3h-1zM433 394h1v1h-1zM434 387h1v1h-1zM434 391h1v1h-1zM434 394h1v1h-1zM435 387h1v1h-1zM435 391h1v1h-1zM435 394h1v1h-1zM436 387h1v1h-1zM436 391h1v1h-1zM436 393h1v1h-1zM437 388h1v5h-1zM462 105h1v1h-1zM462 110h1v1h-1zM463 104h1v1h-1zM463 111h1v1h-1zM464 104h1v1h-1zM464 107h1v1h-1zM464 111h1v1h-1zM465 104h1v1h-1zM465 107h1v1h-1zM465 111h1v1h-1zM466 105h1v2h-1zM466 108h1v3h-1zM468 105h1v3h-1zM468 111h1v1h-1zM469 104h1v1h-1zM469 108h1v1h-1zM469 111h1v1h-1zM470 104h1v1h-1zM470 108h1v1h-1zM470 111h1v1h-1zM471 104h1v1h-1zM471 108h1v1h-1zM471 110h1v1h-1zM472 105h1v5h-1zM474 105h1v2h-1zM474 108h1v3h-1zM475 104h1v1h-1zM475 107h1v1h-1zM475 111h1v1h-1zM476 104h1v1h-1zM476 107h1v1h-1zM476 111h1v1h-1zM477 104h1v1h-1zM477 107h1v1h-1zM477 111h1v1h-1zM478 105h1v2h-1zM478 108h1v3h-1zM478 394h1v1h-1zM478 399h1v1h-1zM479 393h1v1h-1zM479 399h1v1h-1zM480 106h1v4h-1zM480 392h1v8h-1zM481 105h1v1h-1zM481 110h1v1h-1zM481 399h1v1h-1zM482 104h1v1h-1zM482 111h1v1h-1zM482 399h1v1h-1zM483 105h1v1h-1zM483 110h1v1h-1zM484 106h1v4h-1zM484 393h1v2h-1zM484 396h1v3h-1zM485 392h1v1h-1zM485 395h1v1h-1zM485 399h1v1h-1zM486 392h1v1h-1zM486 395h1v1h-1zM486 399h1v1h-1zM487 392h1v1h-1zM487 395h1v1h-1zM487 399h1v1h-1zM488 393h1v2h-1zM488 396h1v3h-1zM493 199h1v1h-1zM493 204h1v2h-1zM494 198h1v1h-1zM494 203h1v1h-1zM494 205h1v1h-1zM495 198h1v1h-1zM495 202h1v1h-1zM495 205h1v1h-1zM496 198h1v1h-1zM496 201h1v1h-1zM496 205h1v1h-1zM497 199h1v2h-1zM497 205h1v1h-1zM499 199h1v3h-1zM499 205h1v1h-1zM500 198h1v1h-1zM500 202h1v1h-1zM500 205h1v1h-1zM501 198h1v1h-1zM501 202h1v1h-1zM501 205h1v1h-1zM502 198h1v1h-1zM502 202h1v1h-1zM502 204h1v1h-1zM503 106h1v1h-1zM503 111h1v1h-1zM503 199h1v5h-1zM504 105h1v1h-1zM504 112h1v1h-1zM505 105h1v1h-1zM505 108h1v1h-1zM505 112h1v1h-1zM505 199h1v2h-1zM505 202h1v3h-1zM506 105h1v1h-1zM506 108h1v1h-1zM506 112h1v1h-1zM506 198h1v1h-1zM506 201h1v1h-1zM506 205h1v1h-1zM507 106h1v2h-1zM507 109h1v3h-1zM507 198h1v1h-1zM507 201h1v1h-1zM507 205h1v1h-1zM508 198h1v1h-1zM508 201h1v1h-1zM508 205h1v1h-1zM509 106h1v3h-1zM509 112h1v1h-1zM509 199h1v2h-1zM509 202h1v3h-1zM510 105h1v1h-1zM510 109h1v1h-1zM510 112h1v1h-1zM511 105h1v1h-1zM511 109h1v1h-1zM511 112h1v1h-1zM511 200h1v4h-1zM512 105h1v1h-1zM512 109h1v1h-1zM512 111h1v1h-1zM512 199h1v1h-1zM512 204h1v1h-1zM513 106h1v5h-1zM513 198h1v1h-1zM513 205h1v1h-1zM514 199h1v1h-1zM514 204h1v1h-1zM515 105h1v1h-1zM515 200h1v4h-1zM516 105h1v1h-1zM516 111h1v2h-1zM517 105h1v1h-1zM517 109h1v2h-1zM518 105h1v1h-1zM518 107h1v2h-1zM519 105h1v2h-1zM521 107h1v4h-1zM522 106h1v1h-1zM522 111h1v1h-1zM523 105h1v1h-1zM523 112h1v1h-1zM524 106h1v1h-1zM524 111h1v1h-1zM525 107h1v4h-1zM530 389h1v1h-1zM530 394h1v1h-1zM531 388h1v1h-1zM531 394h1v1h-1zM532 387h1v8h-1zM533 394h1v1h-1zM534 133h1v1h-1zM534 138h1v1h-1zM534 394h1v1h-1zM535 132h1v1h-1zM535 139h1v1h-1zM536 132h1v1h-1zM536 135h1v1h-1zM536 139h1v1h-1zM536 388h1v3h-1zM536 394h1v1h-1zM537 132h1v1h-1zM537 135h1v1h-1zM537 139h1v1h-1zM537 387h1v1h-1zM537 391h1v1h-1zM537 394h1v1h-1zM538 133h1v2h-1zM538 136h1v3h-1zM538 387h1v1h-1zM538 391h1v1h-1zM538 394h1v1h-1zM539 387h1v1h-1zM539 391h1v1h-1zM539 393h1v1h-1zM540 134h1v5h-1zM540 388h1v5h-1zM541 133h1v1h-1zM541 135h1v1h-1zM541 139h1v1h-1zM542 132h1v1h-1zM542 135h1v1h-1zM542 139h1v1h-1zM543 132h1v1h-1zM543 135h1v1h-1zM543 139h1v1h-1zM544 132h1v1h-1zM544 136h1v3h-1zM546 133h1v2h-1zM546 136h1v3h-1zM547 132h1v1h-1zM547 135h1v1h-1zM547 139h1v1h-1zM548 132h1v1h-1zM548 135h1v1h-1zM548 139h1v1h-1zM549 132h1v1h-1zM549 135h1v1h-1zM549 139h1v1h-1zM550 133h1v2h-1zM550 136h1v3h-1zM552 134h1v4h-1zM553 133h1v1h-1zM553 138h1v1h-1zM554 132h1v1h-1zM554 139h1v1h-1zM555 133h1v1h-1zM555 138h1v1h-1zM556 134h1v4h-1zM571 384h1v1h-1zM571 389h1v2h-1zM572 383h1v1h-1zM572 388h1v1h-1zM572 390h1v1h-1zM573 383h1v1h-1zM573 387h1v1h-1zM573 390h1v1h-1zM574 383h1v1h-1zM574 386h1v1h-1zM574 390h1v1h-1zM575 171h1v1h-1zM575 176h1v1h-1zM575 384h1v2h-1zM575 390h1v1h-1zM576 170h1v1h-1zM576 177h1v1h-1zM577 170h1v1h-1zM577 173h1v1h-1zM577 177h1v1h-1zM577 385h1v4h-1zM578 170h1v1h-1zM578 173h1v1h-1zM578 177h1v1h-1zM578 384h1v1h-1zM578 389h1v1h-1zM579 171h1v2h-1zM579 174h1v3h-1zM579 383h1v1h-1zM579 390h1v1h-1zM580 384h1v1h-1zM580 389h1v1h-1zM581 171h1v1h-1zM581 176h1v2h-1zM581 385h1v4h-1zM582 170h1v1h-1zM582 175h1v1h-1zM582 177h1v1h-1zM583 170h1v1h-1zM583 174h1v1h-1zM583 177h1v1h-1zM584 170h1v1h-1zM584 173h1v1h-1zM584 177h1v1h-1zM585 171h1v2h-1zM585 177h1v1h-1zM587 171h1v2h-1zM587 174h1v3h-1zM588 170h1v1h-1zM588 173h1v1h-1zM588 177h1v1h-1zM589 170h1v1h-1zM589 173h1v1h-1zM589 177h1v1h-1zM590 170h1v1h-1zM590 173h1v1h-1zM590 177h1v1h-1zM591 171h1v2h-1zM591 174h1v3h-1zM593 172h1v4h-1zM594 171h1v1h-1zM594 176h1v1h-1zM595 170h1v1h-1zM595 177h1v1h-1zM596 171h1v1h-1zM596 176h1v1h-1zM596 199h1v1h-1zM596 204h1v2h-1zM597 172h1v4h-1zM597 198h1v1h-1zM597 203h1v1h-1zM597 205h1v1h-1zM598 198h1v1h-1zM598 202h1v1h-1zM598 205h1v1h-1zM599 198h1v1h-1zM599 201h1v1h-1zM599 205h1v1h-1zM600 199h1v2h-1zM600 205h1v1h-1zM602 199h1v3h-1zM602 205h1v1h-1zM603 198h1v1h-1zM603 202h1v1h-1zM603 205h1v1h-1zM604 198h1v1h-1zM604 202h1v1h-1zM604 205h1v1h-1zM605 198h1v1h-1zM605 202h1v1h-1zM605 204h1v1h-1zM606 199h1v5h-1zM608 199h1v2h-1zM608 202h1v3h-1zM609 198h1v1h-1zM609 201h1v1h-1zM609 205h1v1h-1zM610 198h1v1h-1zM610 201h1v1h-1zM610 205h1v1h-1zM611 198h1v1h-1zM611 201h1v1h-1zM611 205h1v1h-1zM612 199h1v2h-1zM612 202h1v3h-1zM614 200h1v4h-1zM615 199h1v1h-1zM615 204h1v1h-1zM616 198h1v1h-1zM616 205h1v1h-1zM617 199h1v1h-1zM617 204h1v1h-1zM617 245h1v1h-1zM617 250h1v2h-1zM618 200h1v4h-1zM618 244h1v1h-1zM618 249h1v1h-1zM618 251h1v1h-1zM619 244h1v1h-1zM619 248h1v1h-1zM619 251h1v1h-1zM620 244h1v1h-1zM620 247h1v1h-1zM620 251h1v1h-1zM621 245h1v2h-1zM621 251h1v1h-1zM623 247h1v3h-1zM623 394h1v1h-1zM623 399h1v1h-1zM624 246h1v1h-1zM624 249h1v1h-1zM624 393h1v1h-1zM624 399h1v1h-1zM625 245h1v1h-1zM625 249h1v1h-1zM625 392h1v8h-1zM626 244h1v8h-1zM626 399h1v1h-1zM627 249h1v1h-1zM627 399h1v1h-1zM629 245h1v2h-1zM629 248h1v3h-1zM629 393h1v2h-1zM629 396h1v3h-1zM630 244h1v1h-1zM630 247h1v1h-1zM630 251h1v1h-1zM630 392h1v1h-1zM630 395h1v1h-1zM630 399h1v1h-1zM631 244h1v1h-1zM631 247h1v1h-1zM631 251h1v1h-1zM631 392h1v1h-1zM631 395h1v1h-1zM631 399h1v1h-1zM632 244h1v1h-1zM632 247h1v1h-1zM632 251h1v1h-1zM632 392h1v1h-1zM632 395h1v1h-1zM632 399h1v1h-1zM633 245h1v2h-1zM633 248h1v3h-1zM633 393h1v2h-1zM633 396h1v3h-1zM635 246h1v4h-1zM636 245h1v1h-1zM636 250h1v1h-1zM637 244h1v1h-1zM637 251h1v1h-1zM638 245h1v1h-1zM638 250h1v1h-1zM639 246h1v4h-1z"/>
</svg>
</body></html>
